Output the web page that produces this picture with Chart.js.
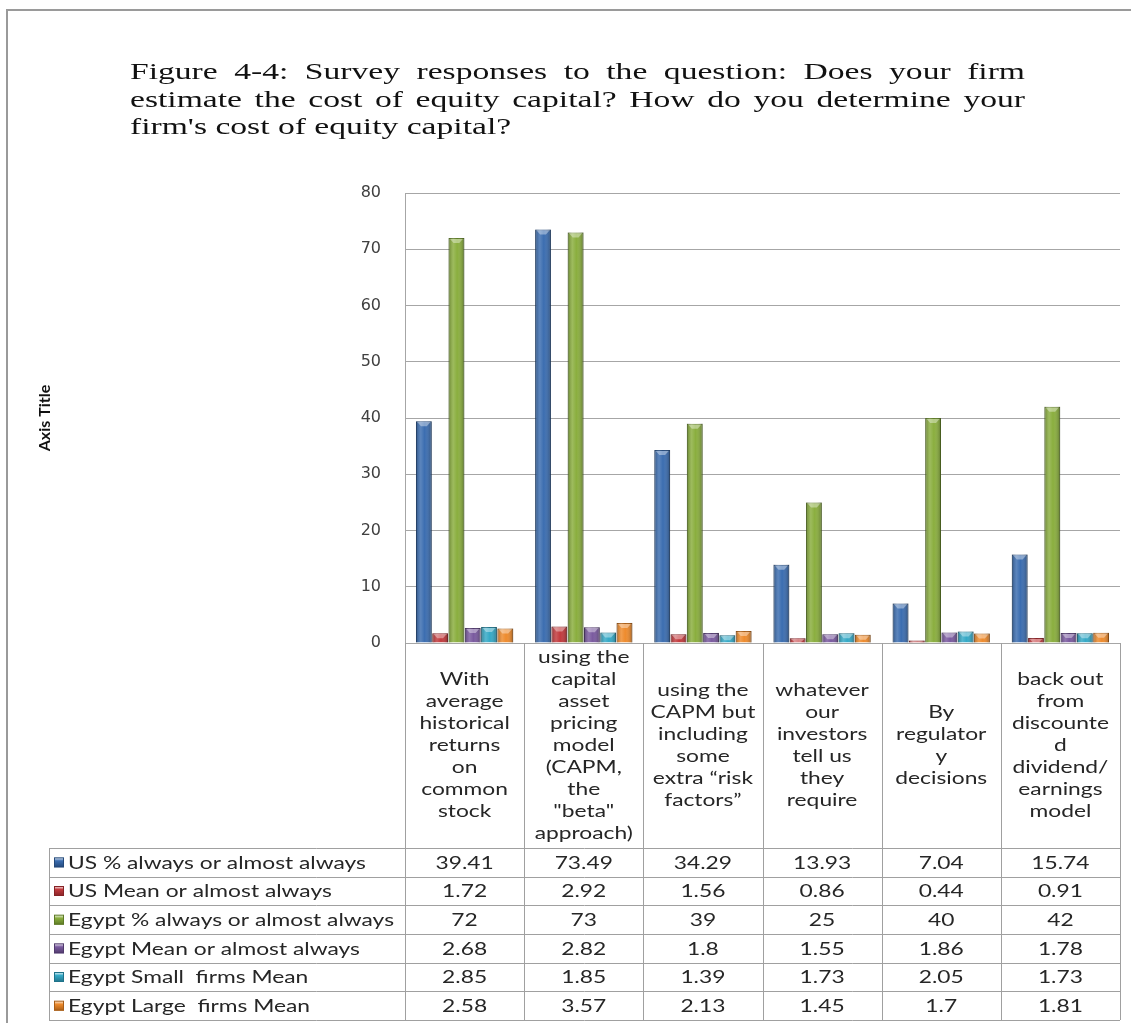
<!DOCTYPE html>
<html>
<head>
<meta charset="utf-8">
<script src="https://cdn.jsdelivr.net/npm/chart.js@4.4.0/dist/chart.umd.min.js"></script>
<style>
    body { margin: 0; background: #fff; }
    #page { position: relative; width: 1131px; height: 1023px; overflow: hidden; background: #fff; }
    #frame { position: absolute; left: 6px; top: 9px; width: 1200px; height: 1100px; border-left: 2px solid #9a9a9a; border-top: 2px solid #9a9a9a; }
    #title { position: absolute; left: 130px; top: 58px; font-family: "Liberation Serif", serif; font-size: 24px; line-height: 27.5px; color: #111; transform: scaleX(1.4); transform-origin: 0 0; }
    #title div { white-space: nowrap; }
    canvas { position: absolute; left: 0; top: 0; }
</style>
</head>
<body>
<div id="page">
    <div id="frame"></div>
    <canvas id="surveyChart" width="1131" height="1023"></canvas>
    <div id="title">
        <div><span class="fill">Figure 4-4: Survey responses to the question: Does your firm</span></div>
        <div><span class="fill">estimate the cost of equity capital? How do you determine your</span></div>
        <div><span>firm's cost of equity capital?</span></div>
    </div>
</div>
<script>
// categories (wrapped the way the table shows them)
const categories = [
    ['With', 'average', 'historical', 'returns', 'on', 'common', 'stock'],
    ['using the', 'capital', 'asset', 'pricing', 'model', '(CAPM,', 'the', '"beta"', 'approach)'],
    ['using the', 'CAPM but', 'including', 'some', 'extra \u201crisk', 'factors\u201d'],
    ['whatever', 'our', 'investors', 'tell us', 'they', 'require'],
    ['By', 'regulator', 'y', 'decisions'],
    ['back out', 'from', 'discounte', 'd', 'dividend/', 'earnings', 'model']
];

const seriesNames = [
    'US % always or almost always',
    'US Mean or almost always',
    'Egypt % always or almost always',
    'Egypt Mean or almost always',
    'Egypt Small  firms Mean',
    'Egypt Large  firms Mean'
];

const usPct = [39.41, 73.49, 34.29, 13.93, 7.04, 15.74];
const usMean = [1.72, 2.92, 1.56, 0.86, 0.44, 0.91];
const egyptPct = [72, 73, 39, 25, 40, 42];
const egyptMean = [2.68, 2.82, 1.8, 1.55, 1.86, 1.78];
const egyptSmall = [2.85, 1.85, 1.39, 1.73, 2.05, 1.73];
const egyptLarge = [2.58, 3.57, 2.13, 1.45, 1.7, 1.81];

const yMin = 0, yMax = 80, yStep = 10;

const seriesValues = [usPct, usMean, egyptPct, egyptMean, egyptSmall, egyptLarge];
const fillColors = ['#3b6db0', '#c23a3d', '#8aae3e', '#7a5a9f', '#35a9c6', '#ee8b2d'];
const edgeColors = ['#24497a', '#852326', '#5d7a26', '#503a6c', '#1f7289', '#a95d16'];

const FONT = 'Lato, "Open Sans", sans-serif';
const TEXT = '#262626';
const LINE = '#a0a0a0';
const STRETCH = 1.34; // the scan is widened horizontally

// justify the first two title lines to the same width
const innerWidth = 895 / 1.4;
document.querySelectorAll('#title .fill').forEach(line => {
    const natural = line.getBoundingClientRect().width / 1.4;
    const gaps = (line.textContent.match(/ /g) || []).length;
    line.style.wordSpacing = ((innerWidth - natural) / gaps) + 'px';
});

// text drawn a bit wider, like the original
const wideText = (c, t, x, y) => {
    c.save();
    c.translate(x, y);
    c.scale(STRETCH, 1);
    c.fillText(t, 0, 0);
    c.restore();
};

// bevel look of the Excel bars
const bevel = {
    id: 'bevel',
    afterDatasetsDraw(chart) {
        const ctx = chart.ctx;
        chart.data.datasets.forEach((ds, i) => {
            chart.getDatasetMeta(i).data.forEach(bar => {
                const { x, y, base, width } = bar.getProps(['x', 'y', 'base', 'width'], true);
                const l = x - width / 2;
                const h = base - y;
                if (h <= 0) return;
                ctx.save();
                const g = ctx.createLinearGradient(l, 0, l + width, 0);
                g.addColorStop(0, 'rgba(0,0,0,0.25)');
                g.addColorStop(0.3, 'rgba(255,255,255,0.16)');
                g.addColorStop(0.55, 'rgba(255,255,255,0)');
                g.addColorStop(1, 'rgba(0,0,0,0.3)');
                ctx.fillStyle = g;
                ctx.fillRect(l, y, width, h);
                const c = Math.min(5, h);
                ctx.fillStyle = 'rgba(255,255,255,0.38)';
                ctx.beginPath();
                ctx.moveTo(l + 1.5, y + 1);
                ctx.lineTo(l + width - 1.5, y + 1);
                ctx.lineTo(l + width - 5, y + c);
                ctx.lineTo(l + 5, y + c);
                ctx.closePath();
                ctx.fill();
                ctx.restore();
            });
        });
    }
};

// data table under the plot + axis title
const dataTable = {
    id: 'dataTable',
    afterDraw(chart) {
        const ctx = chart.ctx;
        const xs = chart.scales.x;
        const area = chart.chartArea;
        const n = categories.length;
        const colW = (xs.right - xs.left) / n;
        const headTop = area.bottom;
        const headBottom = 848;
        const tableBottom = 1020;
        const tableLeft = 49;
        const rowH = (tableBottom - headBottom) / seriesNames.length;

        ctx.save();
        ctx.strokeStyle = LINE;
        ctx.lineWidth = 1;

        // vertical lines
        for (let i = 0; i <= n; i++) {
            const px = Math.round(xs.left + i * colW) + 0.5;
            ctx.beginPath();
            ctx.moveTo(px, headTop);
            ctx.lineTo(px, tableBottom);
            ctx.stroke();
        }
        ctx.beginPath();
        ctx.moveTo(tableLeft + 0.5, headBottom);
        ctx.lineTo(tableLeft + 0.5, tableBottom);
        ctx.stroke();

        // horizontal lines
        for (let r = 0; r <= seriesNames.length; r++) {
            const py = Math.round(headBottom + r * rowH) + 0.5;
            ctx.beginPath();
            ctx.moveTo(tableLeft, py);
            ctx.lineTo(xs.right, py);
            ctx.stroke();
        }

        // category labels
        ctx.fillStyle = TEXT;
        ctx.font = '17px ' + FONT;
        ctx.textAlign = 'center';
        ctx.textBaseline = 'middle';
        const lh = 22;
        categories.forEach((lines, i) => {
            const cx = xs.getPixelForValue(i);
            const mid = (headTop + headBottom) / 2;
            const start = mid - (lines.length - 1) * lh / 2;
            lines.forEach((t, k) => wideText(ctx, t, cx, start + k * lh));
        });

        // rows: legend key + values
        seriesNames.forEach((name, r) => {
            const cy = headBottom + r * rowH + rowH / 2;
            const mx = 54, ms = 10;
            const g = ctx.createLinearGradient(0, cy - ms / 2, 0, cy + ms / 2);
            g.addColorStop(0, '#ffffff');
            g.addColorStop(0.35, fillColors[r]);
            g.addColorStop(1, edgeColors[r]);
            ctx.fillStyle = g;
            ctx.fillRect(mx, cy - ms / 2, ms, ms);
            ctx.strokeStyle = edgeColors[r];
            ctx.strokeRect(mx + 0.5, cy - ms / 2 + 0.5, ms - 1, ms - 1);

            ctx.fillStyle = TEXT;
            ctx.textAlign = 'left';
            wideText(ctx, name, 68, cy + 1);
            ctx.textAlign = 'center';
            seriesValues[r].forEach((v, i) => {
                wideText(ctx, String(v), xs.getPixelForValue(i), cy + 1);
            });
        });

        // axis title
        ctx.translate(45, (area.top + area.bottom) / 2);
        ctx.rotate(-Math.PI / 2);
        ctx.font = 'bold 16px "Liberation Sans Narrow", ' + FONT;
        ctx.fillStyle = '#111';
        ctx.textAlign = 'center';
        ctx.fillText('Axis Title', 0, 0);
        ctx.restore();
    }
};

const ctx = document.getElementById('surveyChart').getContext('2d');
const surveyChart = new Chart(ctx, {
    type: 'bar',
    data: {
        labels: categories,
        datasets: seriesNames.map((name, i) => ({
            label: name,
            data: seriesValues[i],
            backgroundColor: fillColors[i],
            borderColor: edgeColors[i],
            borderWidth: 1,
            categoryPercentage: 0.82,
            barPercentage: 0.97,
        })),
    },
    options: {
        responsive: false,
        devicePixelRatio: 1,
        animation: false,
        layout: {
            padding: { top: 193, bottom: 380, left: 0, right: 11 },
        },
        plugins: {
            legend: { display: false },
            tooltip: { enabled: false },
        },
        scales: {
            x: {
                display: false,
            },
            y: {
                min: yMin,
                max: yMax,
                ticks: {
                    stepSize: yStep,
                    padding: 24,
                    color: '#404040',
                    font: { family: '"DejaVu Sans", sans-serif', size: 16 },
                },
                grid: {
                    color: '#a6a6a6',
                    drawTicks: false,
                },
                border: { display: true, color: '#a6a6a6' },
                afterFit: (scale) => { scale.width = 405; },
            },
        },
    },
    plugins: [bevel, dataTable],
});
</script>
</body>
</html>
